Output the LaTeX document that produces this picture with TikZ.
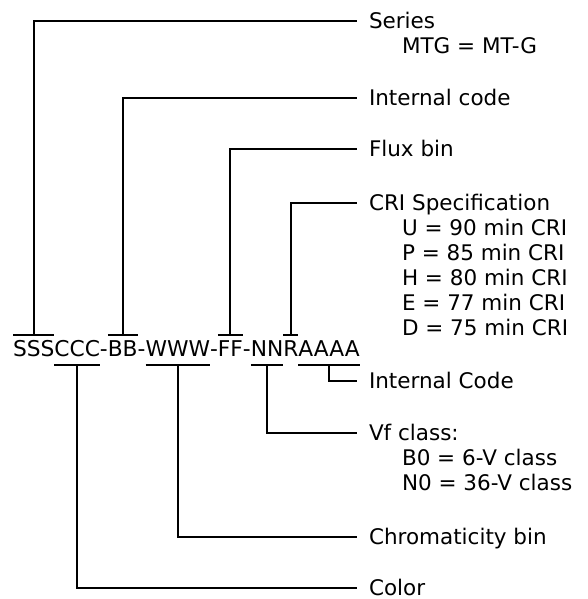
\documentclass[tikz,border=0pt]{standalone}
\usepackage{fontspec}
\setmainfont{DejaVu Sans}
\usetikzlibrary{positioning,calc}

\tikzset{
  seg/.style={inner sep=0pt, outer sep=0pt, text height=15.9pt, text depth=0pt,
    font=\fontsize{21.75}{26}\selectfont},
  lead/.style={line width=1.8pt},
  lbl/.style={anchor=base west, inner sep=0pt, outer sep=0pt, text depth=0pt,
    font=\fontsize{21.5}{25}\selectfont},
}

\begin{document}
\begin{tikzpicture}[x=1pt,y=1pt]
    \useasboundingbox (0,0) rectangle (588,599);

    % The part number, one node for each field
    \node[seg, anchor=base west] (sss) at (13,242) {SSS};
    \node[seg, right=0pt of sss] (ccc) {CCC};
    \node[seg, right=0pt of ccc] (d1) {-};
    \node[seg, right=0pt of d1] (bb) {BB};
    \node[seg, right=0pt of bb] (d2) {-};
    \node[seg, right=0pt of d2] (www) {WWW};
    \node[seg, right=0pt of www] (d3) {-};
    \node[seg, right=0pt of d3] (ff) {FF};
    \node[seg, right=0pt of ff] (d4) {-};
    \node[seg, right=0pt of d4] (nn) {NN};
    \node[seg, right=0pt of nn] (r) {R};
    \node[seg, right=0pt of r] (aaaa) {AAAA};

    % Brackets over and under the fields
    \foreach \f in {sss,bb,ff,r}
        \draw[lead] ($(\f.north west)+(0,6)$) -- ($(\f.north east)+(0,6)$);
    \foreach \f in {ccc,www,nn,aaaa}
        \draw[lead] ($(\f.south west)+(0,-8)$) -- ($(\f.south east)+(0,-8)$);

    % Ends of the leader lines
    \coordinate (tSeries) at (357,578);
    \coordinate (tCode) at (357,501);
    \coordinate (tFlux) at (357,450);
    \coordinate (tCri) at (357,396);
    \coordinate (tInt) at (357,218);
    \coordinate (tVf) at (357,166);
    \coordinate (tChroma) at (357,62);
    \coordinate (tColor) at (357,11);

    % Leaders from the upper brackets
    \draw[lead] ($(sss.north)+(0,6)$) |- (tSeries);
    \draw[lead] ($(bb.north)+(0,6)$) |- (tCode);
    \draw[lead] ($(ff.north)+(0,6)$) |- (tFlux);
    \draw[lead] ($(r.north)+(0,6)$) |- (tCri);

    % Leaders from the lower brackets
    \draw[lead] ($(aaaa.south)+(0,-8)$) |- (tInt);
    \draw[lead] ($(nn.south)+(0,-8)$) |- (tVf);
    \draw[lead] ($(www.south)+(0,-8)$) |- (tChroma);
    \draw[lead] ($(ccc.south)+(0,-8)$) |- (tColor);

    % Labels
    \node[lbl] (series) at ($(tSeries)+(12,-8)$) {Series};
    \node[lbl] (seriesa) at ($(series.base west)+(33,-25)$) {MTG = MT-G};

    \node[lbl] (code) at ($(tCode)+(12,-8)$) {Internal code};
    \node[lbl] (flux) at ($(tFlux)+(12,-8)$) {Flux bin};

    \node[lbl] (cri) at ($(tCri)+(12,-8)$) {CRI Specification};
    \foreach \t [count=\i] in {U = 90 min CRI, P = 85 min CRI, H = 80 min CRI,
                               E = 77 min CRI, D = 75 min CRI}
        \node[lbl] (cri\i) at ($(cri.base west)+(33,-25*\i)$) {\t};

    \node[lbl] (int) at ($(tInt)+(12,-8)$) {Internal Code};

    \node[lbl] (vf) at ($(tVf)+(12,-8)$) {Vf class:};
    \foreach \t [count=\i] in {B0 = 6-V class, N0 = 36-V class}
        \node[lbl] (vf\i) at ($(vf.base west)+(33,-25*\i)$) {\t};

    \node[lbl] (chroma) at ($(tChroma)+(12,-8)$) {Chromaticity bin};
    \node[lbl] (color) at ($(tColor)+(12,-8)$) {Color};

\end{tikzpicture}
\end{document}
